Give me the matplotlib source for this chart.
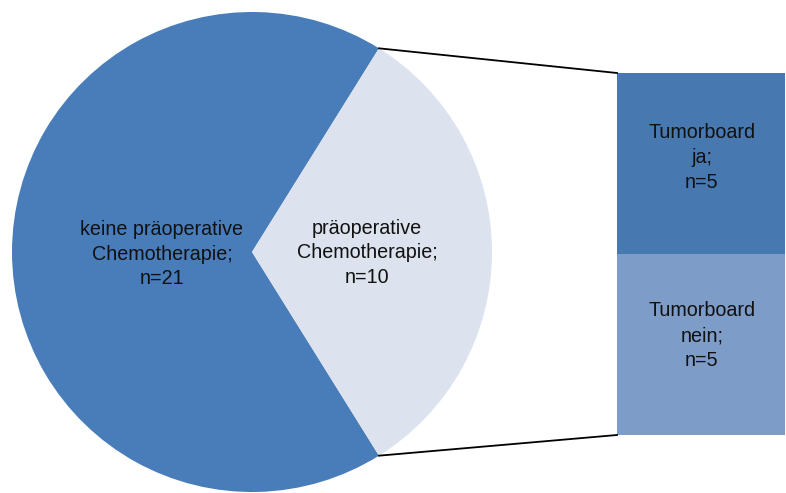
import matplotlib
matplotlib.use("Agg")
import matplotlib.pyplot as plt
import numpy as np
from matplotlib.patches import Wedge

pie_labels = ["keine präoperative\nChemotherapie;\nn=21", "präoperative\nChemotherapie;\nn=10"]
pie_values = [21, 10]
bar_labels = ["Tumorboard\nja;\nn=5", "Tumorboard\nnein;\nn=5"]
bar_values = [5, 5]

pie_colors = ["#487DB9", "#DCE2EE"]
bar_colors = ["#4878B0", "#7E9CC8"]

plt.rcParams['font.family'] = ['Liberation Sans', 'DejaVu Sans']

W, H = 786, 493
fig = plt.figure(figsize=(W/100, H/100), dpi=100)
ax = fig.add_axes([0, 0, 1, 1])
ax.set_xlim(0, W)
ax.set_ylim(0, H)
ax.set_aspect('equal')
ax.axis('off')

FS = 14.2
LS = 1.38

cx, cy, r = 252, H - 252, 240
total = sum(pie_values)
small_ang = pie_values[1] / total * 360
theta1 = -small_ang / 2
theta2 = small_ang / 2
ax.add_patch(Wedge((cx, cy), r, theta2, 360 + theta1, facecolor=pie_colors[0], edgecolor='none'))
ax.add_patch(Wedge((cx, cy), r, theta1, theta2, facecolor=pie_colors[1], edgecolor='none'))

ax.text(162, H - 254, pie_labels[0], ha='center', va='center', fontsize=FS, linespacing=LS, color='#111111')
ax.text(367, H - 253, pie_labels[1], ha='center', va='center', fontsize=FS, linespacing=LS, color='#111111')

bx0, bx1 = 617, 785
by_top, by_bot = H - 73, H - 435
scale = (by_top - by_bot) / sum(bar_values)
top = by_top
offs = [6, 9]
for val, col, lab, off in zip(bar_values, bar_colors, bar_labels, offs):
    h = val * scale
    ax.bar((bx0 + bx1) / 2, -h, bottom=top, width=bx1 - bx0, color=col, edgecolor='none')
    ax.text((bx0 + bx1) / 2 + 1, top - h / 2 + off, lab, ha='center', va='center', fontsize=FS, linespacing=LS, color='#111111')
    top -= h

px_t = cx + r * np.cos(np.radians(theta2)); py_t = cy + r * np.sin(np.radians(theta2))
px_b = cx + r * np.cos(np.radians(theta1)); py_b = cy + r * np.sin(np.radians(theta1))
ax.plot([px_t, bx0], [py_t, by_top], color='black', lw=1.3)
ax.plot([px_b, bx0], [py_b, by_bot], color='black', lw=1.3)

fig.savefig("out.png", dpi=100)
